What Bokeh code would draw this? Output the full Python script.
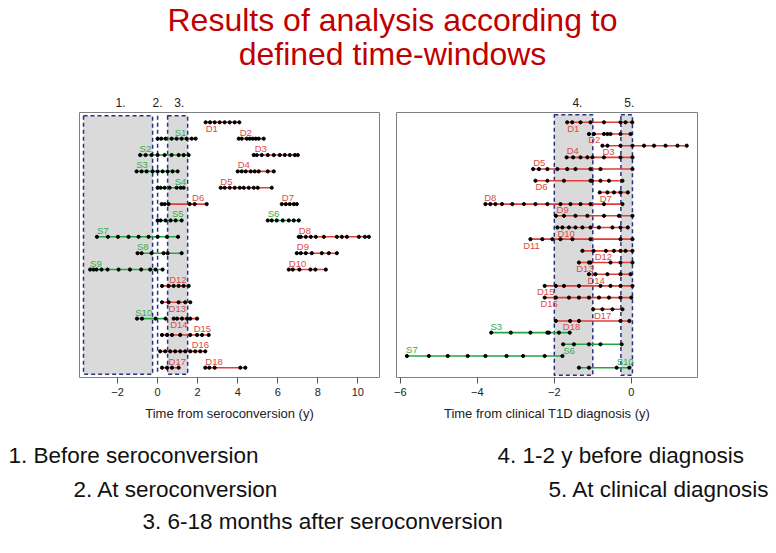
from bokeh.plotting import figure
from bokeh.models import Range1d, ColumnDataSource
from bokeh.layouts import column, row
from bokeh.core.properties import value
from bokeh.embed import file_html
from bokeh.resources import INLINE

# ---------------- data ----------------
TITLE_LINES = ["Results of analysis according to", "defined time-windows"]
FOOTER_TEXTS = ["1. Before seroconversion", "2. At seroconversion",
                "3. 6-18 months after seroconversion",
                "4. 1-2 y before diagnosis", "5. At clinical diagnosis"]

LEFT_XLABEL = "Time from seroconversion (y)"
RIGHT_XLABEL = "Time from clinical T1D diagnosis (y)"
LEFT_TICKS = [-2, 0, 2, 4, 6, 8, 10]
RIGHT_TICKS = [-6, -4, -2, 0]

LEFT_WINDOW_NAMES = ["1.", "2.", "3."]
LEFT_WINDOWS = [(-3.7, -0.25), (0.5, 1.5)]
LEFT_WINDOW_LINES = [0.0]
LEFT_WINDOW_LABEL_X = [-1.85, 0.0, 1.08]
RIGHT_WINDOW_NAMES = ["4.", "5."]
RIGHT_WINDOWS = [(-2.0, -1.0), (-0.27, 0.03)]
RIGHT_WINDOW_LABEL_X = [-1.4, -0.05]

LEFT_NAMES = ["D1", "S1", "D2", "S2", "D3", "S3", "D4", "S4", "D5", "D6", "D7",
              "S5", "S6", "S7", "D8", "S8", "D9", "S9", "D10", "D12", "D13",
              "S10", "D14", "D15", "D16", "D17", "D18"]
LEFT_ROWS = [1, 2, 2, 3, 3, 4, 4, 5, 5, 6, 6, 7, 7, 8, 8, 9, 9, 10, 10, 11, 12,
             13, 13, 14, 15, 16, 16]
LEFT_TIMES = [
    [2.4, 2.62, 2.85, 3.1, 3.35, 3.6, 3.85, 4.08],
    [0.0, 0.18, 0.4, 0.7, 0.95, 1.2, 1.45, 1.7, 1.9],
    [4.05, 4.2, 4.45, 4.6, 4.75, 4.9, 5.05, 5.3],
    [-0.87, -0.6, -0.3, 0.0, 0.35, 0.7, 1.05, 1.3, 1.55],
    [4.8, 4.95, 5.2, 5.5, 5.8, 6.1, 6.35, 6.6, 6.85, 7.0],
    [-1.05, -0.8, -0.55, -0.25, 0.0, 0.25, 0.5, 0.75, 1.0],
    [4.0, 4.2, 4.4, 4.65, 4.85, 5.05, 5.5, 5.8],
    [0.0, 0.15, 0.35, 0.6, 0.95, 1.15, 1.3],
    [3.15, 3.35, 3.6, 3.85, 4.1, 4.3, 4.55, 4.8, 5.0, 5.7],
    [0.2, 0.35, 0.55, 1.6, 1.85, 2.45],
    [6.2, 6.4, 6.6, 6.8, 6.95],
    [0.0, 0.15, 0.4, 0.65, 0.9, 1.2],
    [5.5, 5.7, 5.95, 6.25, 6.55, 6.8, 7.05],
    [-3.03, -2.48, -1.98, -1.45, -0.95, -0.45, 0.0, 0.47, 1.02],
    [7.05, 7.15, 7.4, 7.65, 7.9, 8.3, 8.95, 9.2, 9.45, 10.05, 10.35, 10.55],
    [-1.0, -0.8, -0.3, 0.3, 0.5, 1.2],
    [6.95, 7.15, 7.4, 7.7, 8.2, 8.55, 8.95],
    [-3.37, -3.2, -3.05, -2.8, -2.5, -1.95, -1.38, -0.82, -0.37, -0.1, 0.25],
    [6.55, 6.75, 7.08, 7.63, 7.88, 8.4],
    [0.22, 0.55, 0.8, 1.05, 1.3, 1.55],
    [0.22, 0.55, 1.05, 1.38, 1.63],
    [-1.03, -0.78, -0.1, 0.4],
    [0.8, 0.97, 1.22, 1.47, 1.63, 1.97],
    [0.22, 0.47, 0.72, 1.13, 1.63, 1.97, 2.22, 2.55],
    [0.13, 0.38, 0.63, 0.88, 1.13, 1.38, 1.63, 1.88, 2.13, 2.38],
    [0.22, 0.47, 0.72, 1.05],
    [2.38, 2.58, 2.85, 4.13, 4.38],
]
LEFT_LABEL_X = [2.4, 0.85, 4.1, -0.9, 4.85, -1.07, 4.0, 0.85, 3.13, 1.72, 6.2,
                0.72, 5.5, -3.03, 7.05, -1.03, 6.95, -3.37, 6.55, 0.58, 0.55,
                -1.12, 0.63, 1.8, 1.7, 0.55, 2.38]
LEFT_LABEL_SIDE = ["below", "above", "above", "above", "above", "above", "above",
                   "above", "above", "above", "above", "above", "above", "above",
                   "above", "above", "above", "above", "above", "above", "below",
                   "above", "below", "above", "above", "above", "above"]

RIGHT_NAMES = ["D1", "D2", "D3", "D4", "D5", "D6", "D7", "D8", "D9", "D10", "D11",
               "D12", "D13", "D14", "D15", "D16", "D17", "D18", "S3", "S6", "S7",
               "S10"]
RIGHT_ROWS = list(range(1, 23))
RIGHT_TIMES = [
    [-1.665, -1.535, -1.32, -1.06, -0.71, -0.28, -0.15, 0.025],
    [-1.10, -0.97, -0.71, -0.62, -0.54, -0.28, -0.02],
    [-0.75, -0.62, -0.28, 0.03, 0.33, 0.59, 0.89, 1.2, 1.44],
    [-1.68, -1.51, -1.32, -1.14, -1.01, -0.71, -0.28, 0.03],
    [-2.55, -2.40, -2.18, -1.92, -1.665, -1.45, -1.06, -0.80, 0.03],
    [-2.49, -2.18, -1.75, -1.06, -1.02, -0.80, -0.58, -0.23],
    [-0.82, -0.62, -0.45, -0.28, -0.09],
    [-3.79, -3.66, -3.53, -3.36, -3.09, -2.79, -2.49, -2.18, -1.84, -1.58, -1.32,
     -1.06, -0.71, -0.23],
    [-1.96, -1.75, -1.45, -1.14, -0.71, -0.32, 0.03],
    [-1.92, -1.79, -1.62, -1.45, -1.27, -1.06, -0.84, -0.49, -0.28, -0.09],
    [-2.62, -2.31, -2.05, -1.84, -1.53, -1.06, -0.28, 0.03],
    [-1.27, -0.98, -0.66, -0.45, -0.28, -0.15, 0.03],
    [-1.36, -1.10, -1.06, -0.54, -0.28, 0.03],
    [-1.10, -0.93, -0.62, -0.28, -0.02],
    [-2.25, -1.96, -1.75, -1.36, -0.80, -0.54, -0.28, 0.03],
    [-2.25, -1.96, -1.62, -1.36, -1.10, -0.84, -0.58, -0.28, 0.0],
    [-0.99, -0.75, -0.49, -0.23],
    [-1.96, -1.59, -1.36, -0.28, -0.05],
    [-3.64, -3.13, -2.62, -2.18, -2.14, -1.88, -1.60],
    [-1.77, -1.49, -1.10, -0.80, -0.25],
    [-5.83, -5.26, -4.77, -4.25, -3.79, -3.24, -2.81, -2.25, -1.79],
    [-1.36, -1.10, -0.38, -0.05],
]
RIGHT_LABEL_X = [-1.665, -1.12, -0.75, -1.68, -2.55, -2.49, -0.82, -3.82, -1.94,
                 -1.92, -2.81, -0.95, -1.43, -1.14, -2.45, -2.36, -0.97, -1.78,
                 -3.66, -1.77, -5.85, -0.38]
RIGHT_LABEL_SIDE = ["below", "below", "below", "above", "above", "below", "below",
                    "above", "above", "below", "below", "below", "below", "below",
                    "below", "below", "below", "below", "above", "below", "above",
                    "above"]

# ---------------- styles ----------------
RED = "#E33D37"
GREEN = "#22A745"
RED_TXT = "#DC4A48"
GREEN_TXT = "#2FAF48"
BOX_FILL = "#DADADA"
BOX_LINE = "#283080"
FONT = "Liberation Sans"
FRAME_H = 265
STRIP_H = 20


def panel(names, rows, times, label_x, label_side, windows, window_lines,
          win_names, win_label_x, xr, yr, box_y, ticks, xlabel,
          width, mbl, mbr):
    x_range = Range1d(*xr)
    p = figure(width=width, height=FRAME_H + 48, x_range=x_range,
               y_range=Range1d(*yr), y_axis_location=None,
               output_backend="svg", toolbar_location=None,
               min_border_left=mbl, min_border_right=mbr,
               min_border_top=0, min_border_bottom=48)
    p.outline_line_color = "#808080"
    p.outline_line_width = 1
    p.grid.visible = False

    ax = p.xaxis[0]
    ax.ticker = ticks
    ax.axis_line_color = None
    ax.major_tick_out = 6
    ax.major_tick_in = 0
    ax.minor_tick_out = 0
    ax.minor_tick_in = 0
    ax.major_tick_line_color = "#555555"
    ax.major_label_text_font = FONT
    ax.major_label_text_font_size = "11px"
    ax.major_label_text_color = "#222222"
    ax.major_label_standoff = 4
    ax.axis_label = xlabel
    ax.axis_label_text_font = FONT
    ax.axis_label_text_font_style = "normal"
    ax.axis_label_text_font_size = "13px"
    ax.axis_label_text_color = "#222222"
    ax.axis_label_standoff = 7

    # time windows
    p.quad(left=[w[0] for w in windows], right=[w[1] for w in windows],
           top=[box_y[0]] * len(windows), bottom=[box_y[1]] * len(windows),
           fill_color=BOX_FILL, line_color=BOX_LINE, line_width=1.5,
           line_dash="4 3")
    if window_lines:
        p.segment(x0=window_lines, x1=window_lines,
                  y0=[box_y[0]] * len(window_lines),
                  y1=[box_y[1]] * len(window_lines),
                  line_color=BOX_LINE, line_width=1.5, line_dash="4 3")

    colors = [GREEN if n.startswith("S") else RED for n in names]
    tcolors = [GREEN_TXT if n.startswith("S") else RED_TXT for n in names]
    src = ColumnDataSource(dict(xs=times,
                                ys=[[r] * len(t) for r, t in zip(rows, times)],
                                color=colors))
    p.multi_line(xs="xs", ys="ys", line_color="color", line_width=1.6, source=src)

    px, py = [], []
    for r, t in zip(rows, times):
        px.extend(t)
        py.extend([r] * len(t))
    p.scatter(x=px, y=py, size=3.2, marker="circle", color="black")

    # labels: sit just above or just below their line
    px_per_row = FRAME_H / abs(yr[0] - yr[1])
    for side, shift in (("above", -6.5), ("below", 6.0)):
        idx = [i for i, s in enumerate(label_side) if s == side]
        lsrc = ColumnDataSource(dict(x=[label_x[i] for i in idx],
                                     y=[rows[i] + shift / px_per_row for i in idx],
                                     text=[names[i] for i in idx],
                                     color=[tcolors[i] for i in idx]))
        p.text(x="x", y="y", text="text", text_color="color", source=lsrc,
               text_font=value(FONT), text_font_size="9.5px",
               text_align="left", text_baseline="middle")

    # strip above the frame carrying the window numbers, same x scale
    strip = figure(width=width, height=STRIP_H, x_range=x_range,
                   y_range=Range1d(0, 1), x_axis_location=None,
                   y_axis_location=None, output_backend="svg",
                   toolbar_location=None, min_border_left=mbl,
                   min_border_right=mbr, min_border_top=0, min_border_bottom=0)
    strip.outline_line_color = None
    strip.grid.visible = False
    strip.text(x=win_label_x, y=[0.5] * len(win_names), text=win_names,
               text_align="center", text_baseline="middle",
               text_font=value(FONT), text_font_size="12px",
               text_color="#222222")
    return column(strip, p)


left = panel(LEFT_NAMES, LEFT_ROWS, LEFT_TIMES, LEFT_LABEL_X, LEFT_LABEL_SIDE,
             LEFT_WINDOWS, LEFT_WINDOW_LINES, LEFT_WINDOW_NAMES, LEFT_WINDOW_LABEL_X,
             (-3.9, 11.08), (16.6, 0.4), (0.6, 16.4), LEFT_TICKS,
             LEFT_XLABEL, 388, 79, 9)
right = panel(RIGHT_NAMES, RIGHT_ROWS, RIGHT_TIMES, RIGHT_LABEL_X, RIGHT_LABEL_SIDE,
              RIGHT_WINDOWS, [], RIGHT_WINDOW_NAMES, RIGHT_WINDOW_LABEL_X,
              (-6.1, 1.72), (22.84, 0.16), (0.35, 22.65), RIGHT_TICKS,
              RIGHT_XLABEL, 382, 8, 73)


def text_fig(h):
    f = figure(width=770, height=h, x_range=Range1d(0, 770), y_range=Range1d(h, 0),
               x_axis_location=None, y_axis_location=None, output_backend="svg",
               toolbar_location=None, min_border=0)
    f.outline_line_color = None
    f.grid.visible = False
    return f


header = text_fig(92)
header.text(x=[392, 392], y=[19, 53], text=TITLE_LINES, text_align="center",
            text_baseline="middle", text_font=value(FONT),
            text_font_size="32px", text_color="#C00000")

footer = text_fig(120)
footer.text(x=[8, 73, 142, 497, 548], y=[30, 64, 96, 30, 64], text=FOOTER_TEXTS,
            text_align="left", text_baseline="middle", text_font=value(FONT),
            text_font_size="22.5px", text_color="#111111")

layout = column(header, row(left, right), footer)
open("out.html", "w").write(file_html(layout, INLINE))
